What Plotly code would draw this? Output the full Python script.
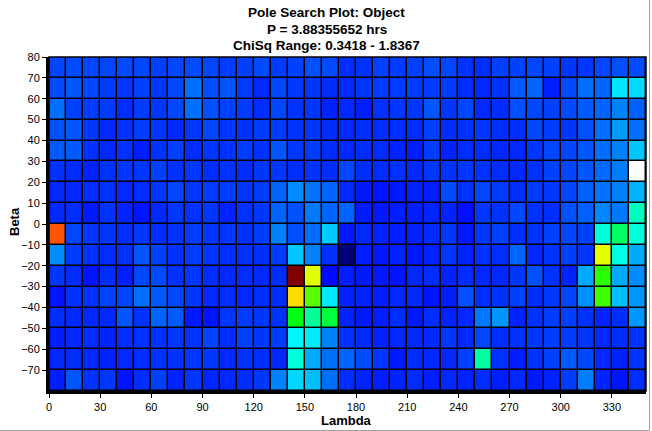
import plotly.graph_objects as go

# ---- axes / categories ----
lambda_edges = list(range(0, 360, 10))      # 35 columns, 0..350
beta_edges = list(range(-80, 90, 10))       # 16 rows, -80..80
x_ticks = list(range(0, 340, 30))
y_ticks = list(range(-70, 90, 10))

title_lines = ["Pole Search Plot: Object",
               "P = 3.88355652 hrs",
               "ChiSq Range: 0.3418 - 1.8367"]

# ---- cell colour index (one list per beta row, lambda 0..340) ----
beta_70 = [70, 75, 70, 70, 75, 70, 65, 70, 75, 70, 60, 65, 75, 60, 65, 80, 75, 45, 50, 65, 60, 65, 78, 70, 50, 45, 65, 65, 70, 65, 55, 55, 70, 80, 75]
beta_60 = [75, 85, 70, 60, 55, 65, 55, 70, 110, 78, 85, 60, 40, 70, 55, 55, 45, 40, 55, 60, 60, 60, 60, 60, 45, 40, 50, 90, 100, 30, 75, 110, 100, 230, 220]
beta_50 = [110, 65, 60, 60, 45, 60, 55, 70, 110, 80, 65, 60, 45, 70, 50, 55, 35, 40, 30, 50, 55, 55, 85, 55, 70, 40, 45, 80, 70, 65, 75, 90, 100, 130, 95]
beta_40 = [80, 85, 55, 40, 50, 60, 55, 40, 55, 70, 55, 50, 60, 60, 50, 55, 45, 40, 45, 45, 45, 45, 65, 45, 50, 55, 45, 45, 70, 60, 55, 80, 110, 155, 110]
beta_30 = [90, 90, 50, 40, 50, 30, 50, 65, 45, 55, 50, 60, 50, 85, 55, 60, 45, 40, 45, 45, 35, 30, 62, 35, 45, 45, 40, 40, 55, 70, 70, 85, 110, 130, 200]
beta_20 = [50, 45, 35, 50, 55, 55, 65, 50, 55, 45, 50, 45, 55, 55, 45, 50, 45, 70, 45, 45, 50, 40, 55, 50, 55, 50, 45, 40, 50, 65, 70, 85, 105, 125, 800]
beta_10 = [40, 40, 45, 50, 40, 45, 55, 70, 55, 60, 60, 55, 60, 100, 140, 115, 100, 40, 25, 20, 25, 35, 30, 75, 50, 70, 60, 45, 60, 55, 70, 95, 115, 130, 180]
beta_0 = [40, 45, 25, 50, 35, 20, 40, 55, 50, 55, 35, 50, 55, 100, 80, 120, 100, 100, 25, 25, 30, 30, 35, 35, 15, 55, 50, 70, 50, 45, 80, 95, 135, 120, 280]
beta_m10 = [590, 70, 55, 55, 45, 55, 45, 50, 60, 55, 55, 50, 60, 130, 78, 108, 203, 25, 40, 35, 30, 35, 42, 55, 25, 55, 65, 45, 50, 65, 70, 65, 269, 316, 269]
beta_m20 = [140, 60, 50, 45, 50, 85, 65, 50, 60, 55, 45, 50, 45, 60, 200, 130, 50, -40, 30, 25, 35, 25, 35, 55, 35, 50, 45, 100, 40, 50, 65, 55, 445, 265, 170]
beta_m30 = [55, 45, 20, 45, 30, 70, 75, 50, 55, 45, 40, 45, 40, 45, 755, 443, 10, 30, 25, 25, 20, 40, 45, 35, 45, 40, 40, 55, 80, 50, 35, 170, 371, 170, 140]
beta_m40 = [20, 48, 50, 68, 68, 112, 88, 72, 55, 40, 45, 40, 45, 45, 483, 390, 235, 35, 35, 30, 40, 40, 20, 30, 80, 45, 50, 65, 45, 55, 70, 145, 379, 190, 150]
beta_m50 = [45, 40, 40, 40, 85, 50, 100, 90, 25, 20, 55, 60, 55, 50, 347, 296, 331, 35, 25, 30, 45, 25, 45, 35, 40, 120, 150, 35, 50, 60, 65, 50, 35, 45, 150]
beta_m60 = [30, 40, 45, 35, 45, 50, 50, 55, 50, 68, 45, 65, 55, 60, 245, 235, 130, 50, 40, 35, 40, 40, 40, 55, 40, 70, 45, 50, 55, 60, 60, 55, 40, 45, 50]
beta_m70 = [40, 45, 40, 35, 40, 45, 50, 50, 55, 55, 40, 50, 45, 40, 269, 170, 110, 100, 75, 55, 25, 45, 40, 40, 65, 292, 50, 30, 50, 65, 90, 70, 40, 35, 50]
beta_m80 = [30, 85, 50, 55, 20, 45, 65, 35, 55, 38, 40, 45, 55, 130, 215, 190, 110, 45, 35, 30, 35, 45, 30, 40, 35, 45, 30, 40, 25, 35, 60, 125, 35, 20, 45]

rows_top_down = [beta_70, beta_60, beta_50, beta_40, beta_30, beta_20, beta_10, beta_0,
                 beta_m10, beta_m20, beta_m30, beta_m40, beta_m50, beta_m60, beta_m70, beta_m80]
z = rows_top_down[::-1]

# ---- colour scale (index -> colour) ----
ZMIN, ZMAX = -40, 800
stops = [(-40, "rgb(0,0,120)"), (0, "rgb(0,0,255)"), (255, "rgb(0,255,255)"),
         (355, "rgb(0,255,0)"), (455, "rgb(255,255,0)"), (555, "rgb(255,128,0)"),
         (655, "rgb(255,0,0)"), (755, "rgb(128,0,0)"), (800, "rgb(255,255,255)")]
colorscale = [[(v - ZMIN) / (ZMAX - ZMIN), c] for v, c in stops]

FONT = "Arial, 'Liberation Sans', sans-serif"

fig = go.Figure(go.Heatmap(
    z=z, x=lambda_edges, y=beta_edges,
    zmin=ZMIN, zmax=ZMAX, colorscale=colorscale, showscale=False,
    xgap=1.5, ygap=1.5, hoverinfo="x+y"))

W, H = 652, 431
L, R, T, B = 49, 6, 57, 40
pw, ph = W - L - R, H - T - B

def px_x(p):
    return (p - L) / pw

def px_y(p):
    return 1 - (p - T) / ph

axis_common = dict(showgrid=False, zeroline=False, ticks="outside", ticklen=4,
                   tickcolor="black", tickwidth=1, showline=True, linecolor="black",
                   linewidth=3, automargin=False,
                   tickfont=dict(family=FONT, size=11, color="black"))

fig.update_layout(
    width=W, height=H,
    margin=dict(l=L, r=R, t=T, b=B, autoexpand=False),
    paper_bgcolor="white", plot_bgcolor="black",
    xaxis=dict(range=[0, 350], tickvals=x_ticks, **axis_common),
    yaxis=dict(range=[-80, 80], tickvals=y_ticks, **axis_common),
    showlegend=False,
)

annotations = []
for i, line in enumerate(title_lines):
    annotations.append(dict(text="<b>%s</b>" % line, xref="paper", yref="paper",
                            x=px_x(326.5), y=px_y(12 + 17 * i), xanchor="center",
                            yanchor="middle", showarrow=False,
                            font=dict(family=FONT, size=13.5, color="black")))
annotations.append(dict(text="<b>Lambda</b>", xref="paper", yref="paper",
                        x=px_x(346), y=px_y(420), xanchor="center", yanchor="middle",
                        showarrow=False, font=dict(family=FONT, size=13, color="black")))
annotations.append(dict(text="<b>Beta</b>", xref="paper", yref="paper",
                        x=px_x(14), y=px_y(222), xanchor="center", yanchor="middle",
                        textangle=-90, showarrow=False,
                        font=dict(family=FONT, size=13, color="black")))
fig.update_layout(annotations=annotations)

fig.update_layout(shapes=[
    dict(type="rect", xref="paper", yref="paper", x0=0, x1=1, y0=0, y1=1,
         line=dict(color="black", width=1.5), layer="above"),
    dict(type="line", xref="paper", yref="paper", x0=px_x(649.5), x1=px_x(649.5),
         y0=px_y(0), y1=px_y(430.5), line=dict(color="rgb(160,160,160)", width=1)),
    dict(type="line", xref="paper", yref="paper", x0=px_x(0), x1=px_x(649.5),
         y0=px_y(430.5), y1=px_y(430.5), line=dict(color="rgb(160,160,160)", width=1)),
])

fig.write_html("out.html",
               config={"displayModeBar": False},
               post_script="document.body.style.margin='0';"
                           "document.body.style.overflow='hidden';")
